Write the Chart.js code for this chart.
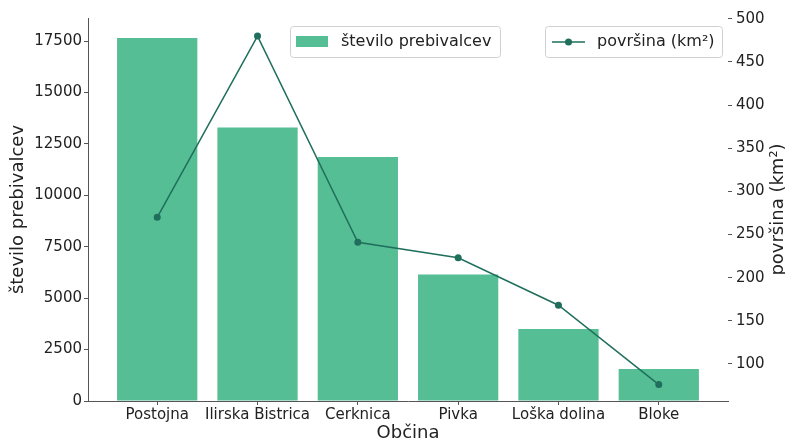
<!DOCTYPE html>
<html>
<head>
<meta charset="utf-8">
<script src="https://cdn.jsdelivr.net/npm/chart.js@4.4.0/dist/chart.umd.min.js"></script>
<style>
  html, body { margin: 0; padding: 0; background: #fff; }
  #wrap { width: 785px; height: 442px; }
</style>
</head>
<body>
<div id="wrap"><canvas id="chart" width="785" height="442"></canvas></div>
<script>
// data
const obcine = ["Postojna", "Ilirska Bistrica", "Cerknica", "Pivka", "Loška dolina", "Bloke"];
const prebivalci = [17650, 13300, 11860, 6150, 3500, 1560];
const povrsina = [270, 480, 241, 223, 168, 76];
const leftTicks = [0, 2500, 5000, 7500, 10000, 12500, 15000, 17500];
const rightTicks = [100, 150, 200, 250, 300, 350, 400, 450, 500];

const barColor = "#55be95";
const lineColor = "#1f6f5c";
const axisColor = "#555";
const textColor = "#222";
const font = "DejaVu Sans";

// two separate legend boxes and the right axis title (reads bottom to top)
const extras = {
    id: "extras",
    afterDraw(chart) {
        const c = chart.ctx;
        const area = chart.chartArea;
        c.save();
        c.font = "16px '" + font + "'";
        c.textBaseline = "middle";
        function box(x, y, w, h) {
            c.fillStyle = "rgba(255,255,255,0.8)";
            c.strokeStyle = "#d0d0d0";
            c.lineWidth = 1;
            c.beginPath();
            c.roundRect(x + 0.5, y + 0.5, w, h, 3);
            c.fill();
            c.stroke();
        }
        box(290, 26, 210, 31);
        c.fillStyle = barColor;
        c.fillRect(296, 36, 32, 11);
        c.fillStyle = textColor;
        c.fillText("število prebivalcev", 341, 42);

        box(545, 26, 177, 31);
        c.strokeStyle = lineColor;
        c.lineWidth = 1.5;
        c.beginPath();
        c.moveTo(552, 42);
        c.lineTo(585, 42);
        c.stroke();
        c.fillStyle = lineColor;
        c.beginPath();
        c.arc(568.5, 42, 3.5, 0, Math.PI * 2);
        c.fill();
        c.fillStyle = textColor;
        c.fillText("površina (km²)", 597, 42);

        c.font = "18px '" + font + "'";
        c.translate(778, (area.top + area.bottom) / 2);
        c.rotate(-Math.PI / 2);
        c.textAlign = "center";
        c.fillText("površina (km²)", 0, 0);
        c.restore();
    }
};

const ctx = document.getElementById("chart").getContext("2d");
new Chart(ctx, {
    type: "bar",
    data: {
        datasets: [{
            type: "line",
            label: "površina (km²)",
            data: povrsina.map((v, i) => ({ x: i, y: v })),
            yAxisID: "y2",
            borderColor: lineColor,
            backgroundColor: lineColor,
            borderWidth: 1.5,
            pointRadius: 3.5,
            pointBorderWidth: 0,
            tension: 0,
            order: 0
        }, {
            label: "število prebivalcev",
            data: prebivalci.map((v, i) => ({ x: i, y: v })),
            yAxisID: "y",
            backgroundColor: barColor,
            borderWidth: 0,
            categoryPercentage: 1,
            barPercentage: 0.8,
            order: 1
        }]
    },
    options: {
        responsive: false,
        animation: false,
        layout: { padding: { top: 18, right: 0, left: 0, bottom: 0 } },
        plugins: { legend: { display: false }, tooltip: { enabled: false } },
        scales: {
            x: {
                type: "linear",
                offset: false,
                min: -0.69,
                max: 5.69,
                afterBuildTicks: axis => { axis.ticks = obcine.map((_, i) => ({ value: i })); },
                afterFit: axis => { axis.height = 41; },
                ticks: {
                    callback: v => obcine[v],
                    color: textColor,
                    font: { family: font, size: 15 },
                    maxRotation: 0,
                    autoSkip: false,
                    padding: 1
                },
                grid: { display: true, offset: false, drawOnChartArea: false, drawTicks: true, tickLength: 4, color: axisColor },
                border: { display: true, color: axisColor, width: 1 },
                title: { display: true, text: "Občina", color: textColor, font: { family: font, size: 18, lineHeight: 1 }, padding: 0 }
            },
            y: {
                position: "left",
                min: 0,
                max: 18620,
                afterBuildTicks: axis => { axis.ticks = leftTicks.map(v => ({ value: v })); },
                afterFit: axis => { axis.width = 88; },
                ticks: { callback: v => String(v), color: textColor, font: { family: font, size: 15 }, padding: 2 },
                grid: { display: true, drawOnChartArea: false, drawTicks: true, tickLength: 4, color: axisColor },
                border: { display: true, color: axisColor, width: 1 },
                title: { display: true, text: "število prebivalcev", color: textColor, font: { family: font, size: 18 }, padding: { top: 8, bottom: 0 } }
            },
            y2: {
                position: "right",
                min: 57,
                max: 501,
                afterBuildTicks: axis => { axis.ticks = rightTicks.map(v => ({ value: v })); },
                afterFit: axis => { axis.width = 57; },
                ticks: { callback: v => String(v), color: textColor, font: { family: font, size: 15 }, padding: 4 },
                grid: { display: true, drawOnChartArea: false, drawTicks: true, tickLength: 4, color: axisColor },
                border: { display: false }
            }
        }
    },
    plugins: [extras]
});
</script>
</body>
</html>
